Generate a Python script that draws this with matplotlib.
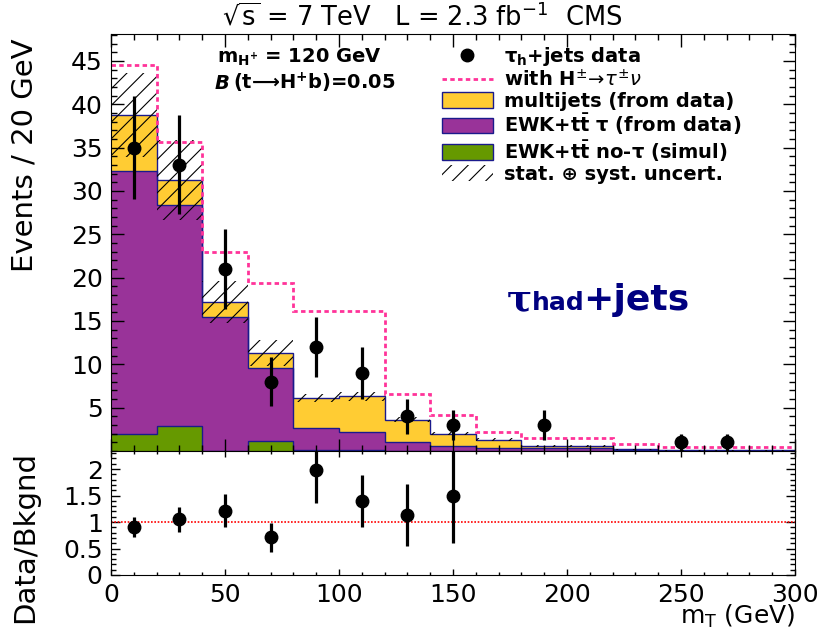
import numpy as np
import matplotlib
matplotlib.use("Agg")
import matplotlib.pyplot as plt
from matplotlib.patches import Patch
from matplotlib.lines import Line2D
from matplotlib.ticker import MultipleLocator, FixedLocator, FormatStrFormatter

# ---- data (events per 20 GeV bin) ----
bin_edges  = np.arange(0, 320, 20)
data       = [35, 33, 21, 8, 12, 9, 4, 3, 0, 3, 0, 0, 1, 1, 0]
data_err   = [5.9, 5.7, 4.6, 2.8, 3.5, 3.0, 2.0, 1.7, 0, 1.7, 0, 0, 1.0, 1.0, 0]
ewk_notau  = [2.0, 2.9, 0.0, 1.15, 0.1, 0.1, 0.05, 0.05, 0.05, 0.03, 0.03, 0.02, 0.01, 0.01, 0.01]
ewk_tau    = [30.3, 25.5, 15.5, 8.45, 2.6, 2.05, 0.95, 0.55, 0.35, 0.27, 0.27, 0.1, 0.04, 0.04, 0.04]
multijets  = [6.45, 2.9, 1.7, 1.7, 3.4, 4.15, 2.6, 1.4, 0.9, 0.3, 0.3, 0.08, 0.03, 0.03, 0.03]
bkg_unc    = [4.8, 4.6, 2.4, 1.5, 0.5, 0.5, 0.3, 0.2, 0.15, 0.1, 0.1, 0.05, 0.03, 0.03, 0.03]
with_hplus = [44.5, 35.7, 23.0, 19.4, 16.2, 16.2, 6.6, 4.1, 2.15, 1.45, 1.45, 0.8, 0.5, 0.5, 0.5]

ratio      = [0.90, 1.05, 1.21, 0.71, 1.98, 1.40, 1.13, 1.49]
ratio_err  = [0.19, 0.23, 0.31, 0.27, 0.62, 0.49, 0.59, 0.88]

YELLOW = "#ffcc33"
PURPLE = "#993399"
GREEN  = "#669900"
NAVY   = "#1a1a8c"
PINK   = "#ff3399"

plt.rcParams["font.family"] = ["DejaVu Sans"]
plt.rcParams["mathtext.fontset"] = "dejavusans"
plt.rcParams["hatch.linewidth"] = 0.8

centers = 0.5 * (bin_edges[:-1] + bin_edges[1:])
g = np.array(ewk_notau)
p = g + np.array(ewk_tau)
y = p + np.array(multijets)
unc = np.array(bkg_unc)

fig = plt.figure(figsize=(8.27, 6.35), dpi=100)
ax  = fig.add_axes([111/827, 1 - 451/635, 684/827, (451 - 34)/635])
rax = fig.add_axes([111/827, 1 - 575/635, 684/827, (575 - 451)/635])

# stacked backgrounds
ax.stairs(g, bin_edges, baseline=0, fill=True, color=GREEN, lw=0)
ax.stairs(p, bin_edges, baseline=g, fill=True, color=PURPLE, lw=0)
ax.stairs(y, bin_edges, baseline=p, fill=True, color=YELLOW, lw=0)
for top in (g, p, y):
    ax.stairs(top, bin_edges, baseline=None, color=NAVY, lw=1.0)

# uncertainty band
ax.stairs(y + unc, bin_edges, baseline=y - unc, fill=True, facecolor="none",
          edgecolor="black", hatch="//", lw=0)

# signal + background
ax.stairs(with_hplus, bin_edges, baseline=None, color=PINK, lw=2.0,
          linestyle=(0, (1.6, 1.2)))

# data
d = np.array(data, dtype=float)
de = np.array(data_err)
m = d > 0
ax.errorbar(centers[m], d[m], yerr=de[m], fmt="o", color="black", ms=9,
            elinewidth=2.3, capsize=0)

ax.set_xlim(0, 300)
ax.set_ylim(0, 48.1)
ax.yaxis.set_major_locator(FixedLocator([5, 10, 15, 20, 25, 30, 35, 40, 45]))
ax.yaxis.set_minor_locator(MultipleLocator(1))
ax.xaxis.set_major_locator(MultipleLocator(50))
ax.xaxis.set_minor_locator(MultipleLocator(10))
ax.tick_params(which="both", direction="in", top=True, right=True, labelbottom=False,
               labelsize=18, pad=6)
ax.tick_params(which="major", length=9, width=1)
ax.tick_params(which="minor", length=4.5, width=1)

fig.text(0.03, 0.94, "Events / 20 GeV", rotation=90, ha="center", va="top", fontsize=21)
fig.text(0.51, 0.972, r"$\sqrt{\mathrm{s}}$ = 7 TeV   L = 2.3 fb$^{-1}$  CMS",
         ha="center", va="center", fontsize=18.5)

# annotations
ax.text(0.155, 0.93, r"$\mathbf{m}_{\mathbf{H^{+}}}$ = 120 GeV", transform=ax.transAxes,
        fontsize=14, fontweight="bold", va="baseline")
ax.text(0.152, 0.868, "B", transform=ax.transAxes, fontsize=14, fontweight="bold",
        fontstyle="italic", va="baseline")
ax.text(0.178, 0.868, r"(t⟶H$^{\mathbf{+}}$b)=0.05", transform=ax.transAxes,
        fontsize=14, fontweight="bold", va="baseline")

fig.text(507/827, 1 - 310/635, "τ", family="DejaVu Serif", fontsize=27,
         fontweight="bold", color="#000080", va="baseline")
fig.text(532/827, 1 - 310/635, "had", fontsize=18, fontweight="bold",
         color="#000080", va="baseline")
fig.text(583/827, 1 - 310/635, "+jets", fontsize=26, fontweight="bold",
         color="#000080", va="baseline")

handles = [
    Line2D([], [], marker="o", color="black", ls="none", ms=9),
    Line2D([], [], color=PINK, lw=2.0, ls=(0, (1.6, 1.2))),
    Patch(facecolor=YELLOW, edgecolor=NAVY, lw=1),
    Patch(facecolor=PURPLE, edgecolor=NAVY, lw=1),
    Patch(facecolor=GREEN, edgecolor=NAVY, lw=1),
    Patch(facecolor="none", edgecolor="black", hatch="//", lw=0),
]
labels = [
    r"τ$_{\mathbf{h}}$+jets data",
    r"with H$^{\pm}\!\rightarrow\!\tau^{\pm}\nu$",
    "multijets (from data)",
    r"EWK+t$\mathbf{\bar{t}}$ τ (from data)",
    r"EWK+t$\mathbf{\bar{t}}$ no-τ (simul)",
    "stat. ⊕ syst. uncert.",
]
fig.legend(handles, labels, loc="upper left", bbox_to_anchor=(442/827, 1 - 45/635),
           frameon=False, prop={"size": 14, "weight": "bold"}, borderpad=0,
           borderaxespad=0, handlelength=2.6, handleheight=0.85, handletextpad=0.6,
           labelspacing=0.06)

# ratio panel
rax.axhline(1, color="red", lw=1.2, ls=(0, (1, 1)))
rax.errorbar(centers[:len(ratio)], ratio, yerr=ratio_err, fmt="o", color="black",
             ms=9, elinewidth=2.3, capsize=0)
rax.set_xlim(0, 300)
rax.set_ylim(0, 2.34)
rax.yaxis.set_major_locator(FixedLocator([0, 0.5, 1, 1.5, 2]))
rax.yaxis.set_major_formatter(FormatStrFormatter("%g"))
rax.yaxis.set_minor_locator(MultipleLocator(0.1))
rax.xaxis.set_major_locator(MultipleLocator(50))
rax.xaxis.set_minor_locator(MultipleLocator(10))
rax.tick_params(which="both", direction="in", top=True, right=True, labelsize=18, pad=6)
rax.tick_params(axis="x", which="major", length=4, width=1)
rax.tick_params(axis="x", which="minor", length=2.5, width=1)
rax.tick_params(axis="y", which="major", length=6.5, width=1)
rax.tick_params(axis="y", which="minor", length=3.5, width=1)

fig.text(0.03, 1 - 537/635, "Data/Bkgnd", rotation=90, ha="center", va="center", fontsize=21)
fig.text(795/827, 1 - 624/635, r"m$_{\mathrm{T}}$ (GeV)", ha="right", va="baseline",
         fontsize=18)

fig.savefig("out.png", dpi=100)
